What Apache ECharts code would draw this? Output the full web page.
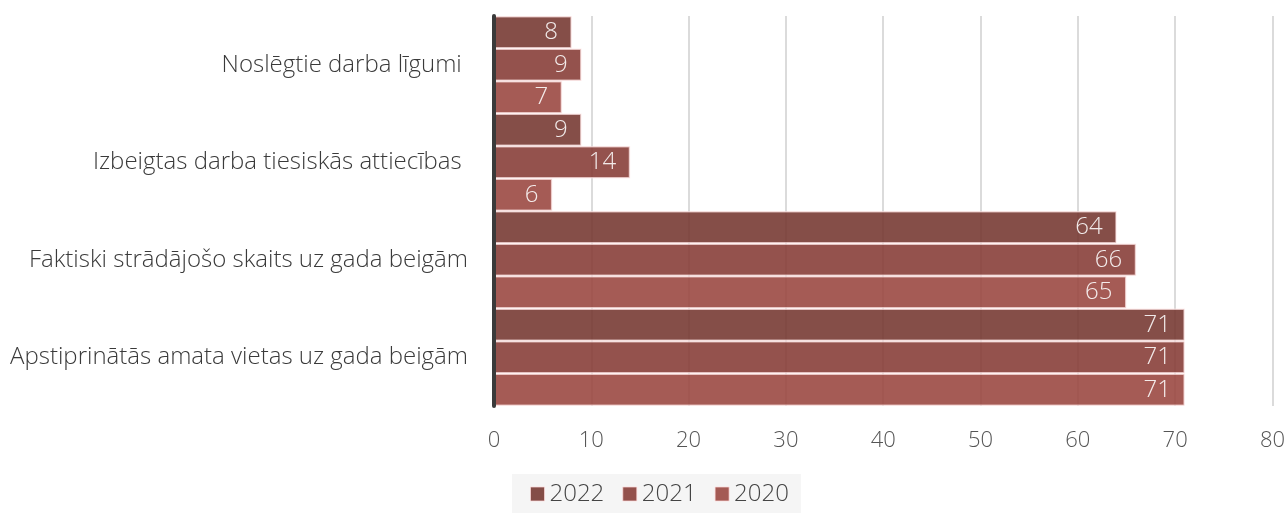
<!DOCTYPE html>
<html>
<head>
<meta charset="utf-8">
<script src="https://cdn.jsdelivr.net/npm/echarts@6/dist/echarts.min.js"></script>
<style>
html, body { margin: 0; padding: 0; background: #fff; }
#chart { width: 1288px; height: 513px; }
</style>
</head>
<body>
<div id="chart"></div>
<script>
const categories = [
	'Noslēgtie darba līgumi ',
	'Izbeigtas darba tiesiskās attiecības ',
	'Faktiski strādājošo skaits uz gada beigām',
	'Apstiprinātās amata vietas uz gada beigām',
]
const years = ['2022', '2021', '2020']
const values2022 = [8, 9, 64, 71]
const values2021 = [9, 14, 66, 71]
const values2020 = [7, 6, 65, 71]
// colours drawn at 0.88 opacity over white
const colors = ['#74352f', '#853a34', '#99443e']

const font = '"Open Sans", "Noto Sans", sans-serif'
const myChart = echarts.init(document.getElementById('chart'))

const makeSeries = (name, data, color) => ({
	name: name,
	type: 'bar',
	data: data,
	barGap: '0%',
	barCategoryGap: '0%',
	itemStyle: {
		color: color,
		opacity: 0.88,
		borderColor: 'rgba(255,230,230,0.75)',
		borderWidth: 1.5,
	},
	label: {
		show: true,
		position: 'insideRight',
		distance: 14,
		color: '#fff',
		fontFamily: font,
		fontWeight: 300,
		fontSize: 24,
	},
})

const option = {
	animation: false,
	backgroundColor: '#fff',
	grid: { left: 494, right: 15, top: 16, bottom: 107, containLabel: false },
	legend: {
		data: years,
		bottom: 0,
		left: 512,
		padding: [8, 12, 7, 18],
		backgroundColor: '#f5f5f5',
		itemWidth: 14,
		itemHeight: 14,
		itemGap: 18,
		icon: 'rect',
		itemStyle: { borderColor: 'rgba(255,220,220,0.8)', borderWidth: 1 },
		textStyle: { fontFamily: font, fontWeight: 300, fontSize: 24, color: '#444' },
	},
	xAxis: {
		type: 'value',
		min: 0,
		max: 80,
		interval: 10,
		axisLine: { show: false },
		axisTick: { show: false },
		splitLine: { lineStyle: { color: '#cfcfcf', width: 1.5 } },
		axisLabel: { fontFamily: font, fontWeight: 300, fontSize: 22, color: '#555', margin: 24 },
	},
	yAxis: {
		type: 'category',
		inverse: true,
		z: 5,
		data: categories,
		axisLine: { lineStyle: { color: '#3a3a3a', width: 4 } },
		axisTick: { show: false },
		axisLabel: { fontFamily: font, fontWeight: 300, fontSize: 24, color: '#3a3a3a', margin: 26 },
	},
	series: [
		makeSeries(years[0], values2022, colors[0]),
		makeSeries(years[1], values2021, colors[1]),
		makeSeries(years[2], values2020, colors[2]),
	],
}

myChart.setOption(option)
</script>
</body>
</html>
